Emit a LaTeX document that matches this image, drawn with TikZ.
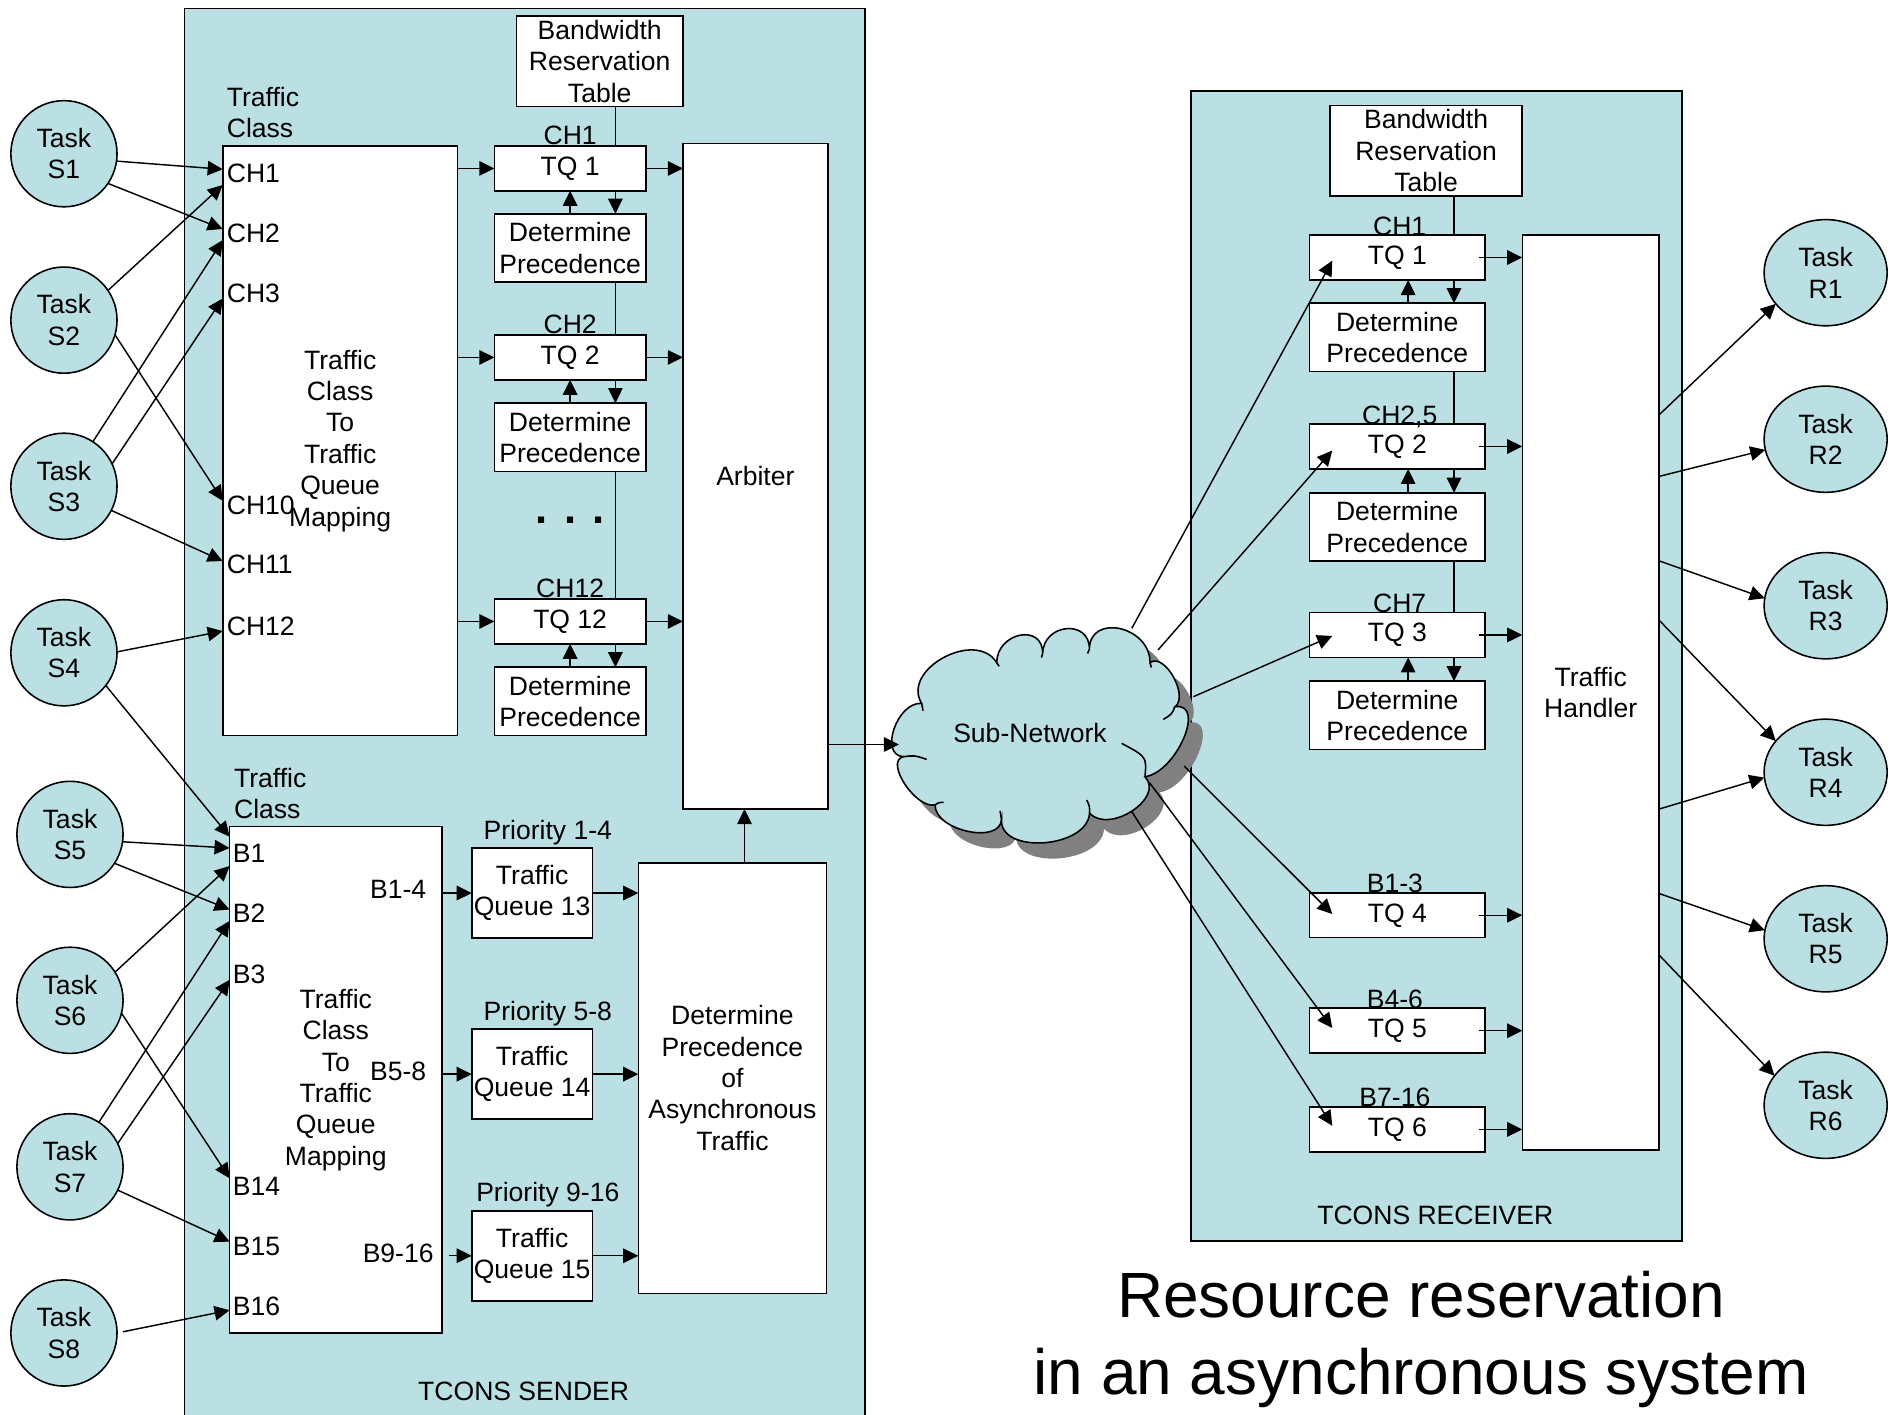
\documentclass[tikz,border=0pt]{standalone}
\usepackage{fontspec}
\setmainfont{Liberation Sans}
\usetikzlibrary{arrows.meta,shapes.geometric,calc}
\definecolor{panelblue}{RGB}{187,224,227}
\definecolor{shadowgray}{RGB}{128,128,128}
\begin{document}
\begin{tikzpicture}[x=1pt,y=-1pt,
  every node/.style={font=\fontsize{22}{26}\selectfont,inner sep=0pt,outer sep=0pt},
  panel/.style={draw,fill=panelblue,line width=1.3pt,anchor=north west},
  blk/.style={draw,fill=white,line width=1.3pt,align=center},
  sq/.style={blk,minimum width=125.5pt,minimum height=37pt},
  sdp/.style={blk,minimum width=125.5pt,minimum height=56.6pt},
  rq/.style={blk,minimum width=145.7pt,minimum height=37.2pt},
  rdp/.style={blk,minimum width=145.7pt,minimum height=56.6pt},
  aq/.style={blk,minimum width=100pt,minimum height=74.6pt},
  task/.style={ellipse,draw,fill=panelblue,line width=1.3pt,align=center,minimum width=88pt,minimum height=88pt},
  rtask/.style={task,minimum width=102pt,minimum height=88pt},
  arr/.style={-{Triangle[length=12.5pt,width=12pt]},line width=1.2pt},
  link/.style={line width=1.2pt},
  lbl/.style={anchor=west},
  hdr/.style={anchor=base},
  % one rounded lobe of the cloud: start, outermost point, end
  puff/.style n args={3}{insert path={.. controls ($0.3333*(#1)+1.3333*(#2)-0.6667*(#3)$) and ($0.3333*(#3)+1.3333*(#2)-0.6667*(#1)$) .. (#3)}},
  cloudline/.style={line width=1.3pt}]
\useasboundingbox (0,0) rectangle (1568,1172);
\clip (0,0) rectangle (1568,1172);

% ---------- panels ----------
\node[panel,minimum width=564pt,minimum height=1200pt] (sender) at (153,7) {};
\node[panel,minimum width=407pt,minimum height=953pt] (receiver) at (987,75.5) {};
\node (sendername) at (434,1152.7) {TCONS SENDER};
\node (receivername) at (1189.5,1007.4) {TCONS RECEIVER};

% ---------- sender: synchronous part ----------
\node[blk,minimum width=138pt,minimum height=75pt] (sbrt) at (497,50.7) {Bandwidth\\Reservation\\Table};
\node[blk,minimum width=194.6pt,minimum height=488.6pt] (map1) at (281.9,365.3) {Traffic\\Class\\To\\Traffic\\Queue\\Mapping};
\node[sq]  (stq1)  at (472.5,139.6) {TQ 1};
\node[sdp] (sdp1)  at (472.5,205.5) {Determine\\Precedence};
\node[sq]  (stq2)  at (472.5,296.2) {TQ 2};
\node[sdp] (sdp2)  at (472.5,362.4) {Determine\\Precedence};
\node[sq]  (stq12) at (472.5,515.0) {TQ 12};
\node[sdp] (sdp12) at (472.5,581.3) {Determine\\Precedence};
\node[blk,minimum width=120pt,minimum height=551.4pt] (arbiter) at (626,394.8) {Arbiter};
\node[hdr,font=\fontsize{36}{40}\selectfont\bfseries] (dots) at (472.5,434) {. . .};

\node[lbl,align=left] (tc1) at (188,93.5) {Traffic\\Class};
\node[lbl] (ch1)  at (188,143.6) {CH1};
\node[lbl] (ch2)  at (188,193.3) {CH2};
\node[lbl] (ch3)  at (188,243.0) {CH3};
\node[lbl] (ch10) at (188,419.0) {CH10};
\node[lbl] (ch11) at (188,468.0) {CH11};
\node[lbl] (ch12) at (188,519.0) {CH12};

\node[hdr] (hq1)  at ($(stq1.north)+(0,-1.5)$)  {CH1};
\node[hdr] (hq2)  at ($(stq2.north)+(0,-1.5)$)  {CH2};
\node[hdr] (hq12) at ($(stq12.north)+(0,-1.5)$) {CH12};

% ---------- sender: asynchronous part ----------
\node[blk,minimum width=176pt,minimum height=419.8pt] (map2) at (278.3,894.9) {Traffic\\Class\\To\\Traffic\\Queue\\Mapping};
\node[aq] (stq13) at (441,740.1)  {Traffic\\Queue 13};
\node[aq] (stq14) at (441,890.2)  {Traffic\\Queue 14};
\node[aq] (stq15) at (441,1040.7) {Traffic\\Queue 15};
\node[blk,minimum width=156pt,minimum height=356.8pt] (dpa) at (607,893.4) {Determine\\Precedence\\of\\Asynchronous\\Traffic};

\node[lbl,align=left] (tc2) at (194,657.8) {Traffic\\Class};
\node[lbl] (b1)  at (193,707.4)  {B1};
\node[lbl] (b2)  at (193,756.7)  {B2};
\node[lbl] (b3)  at (193,807.7)  {B3};
\node[lbl] (b14) at (193,983.0)  {B14};
\node[lbl] (b15) at (193,1032.7) {B15};
\node[lbl] (b16) at (193,1083.0) {B16};
\node (g1) at (330,736.8)  {B1-4};
\node (g2) at (330,887.7)  {B5-8};
\node (g3) at (330,1038.5) {B9-16};
\node[hdr] (pr1) at (454,695.5) {Priority 1-4};
\node[hdr] (pr2) at (454,845.5) {Priority 5-8};
\node[hdr] (pr3) at (454,996.0) {Priority 9-16};

% ---------- receiver ----------
\node[blk,minimum width=159.2pt,minimum height=75pt] (rbrt) at (1181.9,124.9) {Bandwidth\\Reservation\\Table};
\node[rq]  (rtq1) at (1158,213.4) {TQ 1};
\node[rdp] (rdp1) at (1158,279.6) {Determine\\Precedence};
\node[rq]  (rtq2) at (1158,370.0) {TQ 2};
\node[rdp] (rdp2) at (1158,436.7) {Determine\\Precedence};
\node[rq]  (rtq3) at (1158,526.2) {TQ 3};
\node[rdp] (rdp3) at (1158,592.9) {Determine\\Precedence};
\node[rq]  (rtq4) at (1158,758.5) {TQ 4};
\node[rq]  (rtq5) at (1158,854.2) {TQ 5};
\node[rq]  (rtq6) at (1158,936.0) {TQ 6};
\node[blk,minimum width=113.4pt,minimum height=758.3pt] (th) at (1318.3,574) {Traffic\\Handler};

\node[hdr] (hr1) at ($(rtq1.north)+(2,0)$)  {CH1};
\node[hdr] (hr2) at ($(rtq2.north)+(2,0)$)  {CH2,5};
\node[hdr] (hr3) at ($(rtq3.north)+(2,0)$)  {CH7};
\node[hdr] (hr4) at ($(rtq4.north)+(-2,0)$) {B1-3};
\node[hdr] (hr5) at ($(rtq5.north)+(-2,0)$) {B4-6};
\node[hdr] (hr6) at ($(rtq6.north)+(-2,0)$) {B7-16};

% ---------- network cloud ----------
% lobe junctions
\coordinate (cA) at (763.8,582.9);
\coordinate (cB) at (826.0,549.2);
\coordinate (cC) at (864.1,541.5);
\coordinate (cD) at (902.8,538.1);
\coordinate (cE) at (953.1,549.2);
\coordinate (cF) at (973.8,585.7);
\coordinate (cG) at (948.9,643.7);
\coordinate (cH) at (903.0,674.0);
\coordinate (cI) at (830.0,679.0);
\coordinate (cJ) at (775.0,667.0);
\coordinate (cK) at (748.6,627.1);
% outermost point of each lobe
\coordinate (mAB) at (782.0,545.0);
\coordinate (mBC) at (845.3,526.5);
\coordinate (mCD) at (884.0,521.0);
\coordinate (mDE) at (928.2,521.0);
\coordinate (mEF) at (972.4,560.8);
\coordinate (mFG) at (981.0,612.0);
\coordinate (mGH) at (938.5,672.0);
\coordinate (mHI) at (865.0,698.5);
\coordinate (mIJ) at (802.0,689.0);
\coordinate (mJK) at (750.0,650.0);
\coordinate (mKA) at (741.0,604.0);

\begin{scope}[transform canvas={shift={(12,13)}}]
  \fill[shadowgray] (cA) [puff={cA}{mAB}{cB}] [puff={cB}{mBC}{cC}] [puff={cC}{mCD}{cD}]
    [puff={cD}{mDE}{cE}] [puff={cE}{mEF}{cF}] [puff={cF}{mFG}{cG}] [puff={cG}{mGH}{cH}]
    [puff={cH}{mHI}{cI}] [puff={cI}{mIJ}{cJ}] [puff={cJ}{mJK}{cK}] [puff={cK}{mKA}{cA}] -- cycle;
\end{scope}
\filldraw[cloudline,fill=panelblue] (cA) [puff={cA}{mAB}{cB}] [puff={cB}{mBC}{cC}] [puff={cC}{mCD}{cD}]
    [puff={cD}{mDE}{cE}] [puff={cE}{mEF}{cF}] [puff={cF}{mFG}{cG}] [puff={cG}{mGH}{cH}]
    [puff={cH}{mHI}{cI}] [puff={cI}{mIJ}{cJ}] [puff={cJ}{mJK}{cK}] [puff={cK}{mKA}{cA}] -- cycle;
% inner continuations of the lobes
\draw[cloudline] (cK) .. controls (758,626) .. (768,629.3);
\draw[cloudline] (cG) .. controls (950.3,627.1) .. (929.6,616.1);
\draw[cloudline] (cF) .. controls (971,592) .. (964.1,596.2);
\draw[cloudline] (cH) .. controls (903,668) .. (900.6,663);
\draw[cloudline] (cI) .. controls (829,675) .. (828.8,672);
\draw[cloudline] (cJ) .. controls (778,665) .. (782,665);
\draw[cloudline] (cA) .. controls (764,586) .. (765,589);
\draw[cloudline] (cB) -- ++(2,3);
\draw[cloudline] (cC) -- ++(-1,3.5);
\draw[cloudline] (cD) -- ++(-1.5,3.5);
\draw[cloudline] (cE) -- ++(1,4);
\node (net) at (853.6,607.8) {Sub-Network};
% where the links meet the cloud
\coordinate (netin) at (745,617);
\coordinate (no1) at (938,520.7);
\coordinate (no2) at (959.7,538.7);
\coordinate (no3) at (989,577.4);
\coordinate (no4) at (981.3,634.8);
\coordinate (no5) at (952.5,648.4);
\coordinate (no6) at (938,672.7);

% ---------- tasks ----------
\node[task] (S1) at (53,127.4)  {Task\\S1};
\node[task] (S2) at (53,265.3)  {Task\\S2};
\node[task] (S3) at (53,403.0)  {Task\\S3};
\node[task] (S4) at (53,541.0)  {Task\\S4};
\node[task] (S5) at (58,691.5)  {Task\\S5};
\node[task] (S6) at (58,829.0)  {Task\\S6};
\node[task] (S7) at (58,967.0)  {Task\\S7};
\node[task] (S8) at (53,1104.7) {Task\\S8};
\foreach \i/\y in {1/226,2/364,3/502,4/640,5/778,6/916}
  \node[rtask] (R\i) at (1513,\y) {Task\\R\i};

% ---------- bandwidth table links ----------
\draw[link] (sbrt.south -| 510,0) -- (stq1.north -| 510,0);
\draw[link] (sdp1.south -| 510,0) -- (stq2.north -| 510,0);
\draw[link] (sdp2.south -| 510,0) -- (stq12.north -| 510,0);
\draw[link] (rbrt.south -| 1205,0) -- (rtq1.north -| 1205,0);
\draw[link] (rdp1.south -| 1205,0) -- (rtq2.north -| 1205,0);
\draw[link] (rdp2.south -| 1205,0) -- (rtq3.north -| 1205,0);

% ---------- queue / precedence exchanges ----------
\foreach \q/\d in {stq1/sdp1,stq2/sdp2,stq12/sdp12}{
  \draw[arr] (\d.north) -- (\q.south);
  \draw[arr] (\q.south -| 510,0) -- (\d.north -| 510,0);
  \draw[arr] (map1.east |- \q.west) -- (\q.west);
  \draw[arr] (\q.east) -- (arbiter.west |- \q.east);
}
\foreach \q/\d in {rtq1/rdp1,rtq2/rdp2,rtq3/rdp3}{
  \draw[arr] (\d.north -| 1167,0) -- (\q.south -| 1167,0);
  \draw[arr] (\q.south -| 1205,0) -- (\d.north -| 1205,0);
}
\foreach \q in {rtq1,rtq2,rtq3,rtq4,rtq5,rtq6}
  \draw[arr,shorten <=-5pt] (\q.east) -- (th.west |- \q.east);

% ---------- asynchronous path ----------
\draw[arr] (map2.east |- stq13.west) -- (stq13.west);
\draw[arr] (map2.east |- stq14.west) -- (stq14.west);
\draw[arr,shorten <=6pt] (map2.east |- stq15.west) -- (stq15.west);
\foreach \q in {stq13,stq14,stq15}
  \draw[arr] (\q.east) -- (dpa.west |- \q.east);
\draw[arr] (dpa.north -| 617,0) -- (arbiter.south -| 617,0);
\draw[arr] (arbiter.east |- netin) -- (netin);

% ---------- tasks into the sender ----------
\draw[arr] (S1.352) -- (map1.west |- 0,140.3);
\draw[arr] (S1.326) -- (map1.west |- 0,189.8);
\draw[arr] (S2.34)  -- (map1.west |- 0,153.3);
\draw[arr] (S2.344) -- (map1.west |- 0,415);
\draw[arr] (S3.57)  -- (map1.west |- 0,199);
\draw[arr] (S3.25)  -- (map1.west |- 0,247.3);
\draw[arr] (S3.333) -- (map1.west |- 0,465);
\draw[arr] (S4.1)   -- (map1.west |- 0,523);
\draw[arr] (S4.322) -- (map2.west |- 0,693.4);
\draw[arr] (S5.352) -- (map2.west |- 0,702.8);
\draw[arr] (S5.327) -- (map2.west |- 0,753.8);
\draw[arr] (S6.32)  -- (map2.west |- 0,717.7);
\draw[arr] (S6.346) -- (map2.west |- 0,976.5);
\draw[arr] (S7.57)  -- (map2.west |- 0,763.2);
\draw[arr] (S7.26)  -- (map2.west |- 0,812);
\draw[arr] (S7.334) -- (map2.west |- 0,1029);
\draw[arr,shorten <=5pt] (S8.0) -- (map2.west |- 0,1085.8);

% ---------- network into the receiver ----------
\draw[arr] (no1) -- ($(rtq1.west)+(19,2.6)$);
\draw[arr] (no2) -- ($(rtq2.west)+(19,3.4)$);
\draw[arr] (no3) -- ($(rtq3.west)+(19,0.8)$);
\draw[arr] (no4) -- ($(rtq4.west)+(19,-1)$);
\draw[arr] (no5) -- ($(rtq5.west)+(19,-2.2)$);
\draw[arr] (no6) -- ($(rtq6.west)+(19,-3)$);

% ---------- receiver out to tasks ----------
\draw[arr] (th.east |- 0,343.8) -- (R1.212);
\draw[arr] (th.east |- 0,394.8) -- (R2.190);
\draw[arr] (th.east |- 0,464.8) -- (R3.173);
\draw[arr] (th.east |- 0,514)   -- (R4.148);
\draw[arr] (th.east |- 0,670.5) -- (R4.185);
\draw[arr] (th.east |- 0,740.5) -- (R5.172);
\draw[arr] (th.east |- 0,791.5) -- (R6.150);

% ---------- caption ----------
\node[hdr,font=\fontsize{53}{64}\selectfont] (title1) at (1177.7,1091.5) {Resource reservation};
\node[hdr,font=\fontsize{53}{64}\selectfont] (title2) at (1177.7,1155.6) {in an asynchronous system};
\end{tikzpicture}
\end{document}
